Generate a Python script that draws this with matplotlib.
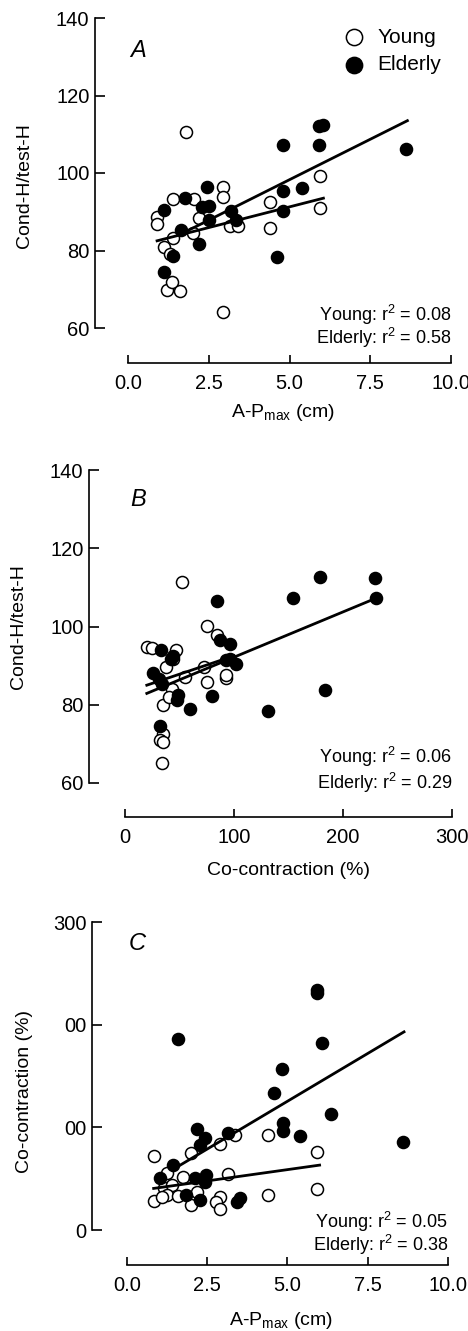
import matplotlib
matplotlib.use("Agg")
import matplotlib.pyplot as plt
import numpy as np

plt.rcParams['font.family'] = ['Liberation Sans', 'DejaVu Sans']
plt.rcParams['mathtext.fontset'] = 'custom'
plt.rcParams['mathtext.rm'] = 'Liberation Sans'

# Panel A: A-Pmax (cm) vs Cond-H/test-H
a_young_x = [1.8, 0.9, 0.9, 1.4, 1.1, 1.3, 1.4, 1.2, 1.35, 1.6, 2.05, 2.2, 2.0,
             2.93, 2.93, 3.15, 3.4, 2.95, 4.4, 4.4, 5.95, 5.95]
a_young_y = [110.5, 88.7, 86.8, 93.2, 81.0, 79.1, 83.1, 69.8, 72.0, 69.6, 93.2,
             88.3, 84.4, 96.5, 93.9, 86.2, 86.2, 64.2, 92.4, 85.7, 99.1, 90.9]
a_elder_x = [1.1, 1.1, 1.4, 1.65, 1.75, 2.2, 2.45, 2.5, 2.3, 2.5, 3.2, 3.35,
             4.8, 4.8, 4.8, 4.6, 5.4, 5.9, 6.05, 5.92, 8.6]
a_elder_y = [90.5, 74.5, 78.6, 85.3, 93.6, 81.8, 96.3, 91.6, 91.3, 87.9, 90.3,
             88.0, 107.2, 95.4, 90.2, 78.2, 96.2, 112.1, 112.4, 107.2, 106.2]
a_fit_young_x = [0.9, 6.05]
a_fit_young_y = [82.5, 93.5]
a_fit_elder_x = [1.7, 8.65]
a_fit_elder_y = [84.5, 113.5]

# Panel B: Co-contraction (%) vs Cond-H/test-H
b_young_x = [52, 20, 24.5, 47, 44, 38, 43, 34.5, 35, 32, 35, 33.5, 75, 84, 72.5,
             75, 92.5, 92.5, 55, 40]
b_young_y = [111.4, 94.8, 94.4, 94.1, 91.8, 89.7, 84.1, 80.0, 72.6, 70.9, 70.5,
             65.2, 100.1, 97.8, 89.7, 85.7, 86.9, 87.5, 87.1, 82.0]
b_elder_x = [84, 154, 179, 229.5, 230, 183.5, 131, 60, 79.5, 48, 49, 33, 42, 44,
             26, 31.5, 32, 87, 96, 93, 102, 96, 34]
b_elder_y = [106.6, 107.4, 112.7, 112.3, 107.4, 83.7, 78.3, 78.8, 82.2, 81.2,
             82.4, 93.9, 91.6, 92.4, 88.0, 86.7, 74.5, 96.5, 95.6, 91.4, 90.5,
             91.8, 85.4]
b_fit_young_x = [20, 100]
b_fit_young_y = [85.0, 92.5]
b_fit_elder_x = [20, 230]
b_fit_elder_y = [82.9, 107.2]

# Panel C: A-Pmax (cm) vs Co-contraction (%)
c_young_x = [0.83, 0.83, 2.0, 2.9, 3.37, 4.4, 5.93, 5.93, 4.4, 3.14, 1.24, 1.74,
             1.14, 1.4, 1.24, 1.58, 2.18, 2.0, 2.9, 2.78, 2.9, 1.09]
c_young_y = [72.3, 28.5, 74.6, 83.7, 92.4, 92.4, 75.6, 39.9, 34.1, 54.5, 55.8,
             51.9, 40.5, 43.8, 34.1, 33.1, 37.3, 24.3, 32.4, 27.6, 20.1, 32.4]
c_elder_x = [1.6, 5.91, 5.93, 6.06, 4.82, 4.58, 6.37, 4.85, 4.85, 5.39, 8.6,
             2.18, 2.44, 2.26, 3.16, 1.43, 1.02, 2.12, 2.46, 2.44, 1.84, 2.26,
             3.42, 3.52]
c_elder_y = [186.5, 233.5, 231.0, 182.6, 157.3, 133.6, 112.9, 103.8, 96.7, 91.5,
             86.0, 98.3, 89.2, 82.7, 94.1, 63.2, 50.3, 50.3, 53.5, 47.0, 34.1,
             29.2, 27.6, 31.5]
c_fit_young_x = [0.83, 6.0]
c_fit_young_y = [40.5, 63.2]
c_fit_elder_x = [1.4, 8.63]
c_fit_elder_y = [58.4, 193.0]

W, H = 468, 1331
fig = plt.figure(figsize=(W / 100, H / 100), dpi=100)


def make_axes(left, right, top, bottom):
    return fig.add_axes([left / W, 1 - bottom / H, (right - left) / W, (bottom - top) / H])


def style(ax, xlim, ylim, xticks, xticklabels, yticks, yticklabels, lout, bout):
    ax.set_xlim(*xlim)
    ax.set_ylim(*ylim)
    for s in ['top', 'right']:
        ax.spines[s].set_visible(False)
    ax.spines['left'].set_position(('outward', lout * 0.72))
    ax.spines['bottom'].set_position(('outward', bout * 0.72))
    ax.spines['left'].set_bounds(*ylim)
    ax.spines['bottom'].set_bounds(*xlim)
    ax.spines['left'].set_linewidth(1.2)
    ax.spines['bottom'].set_linewidth(1.2)
    ax.set_xticks(xticks)
    ax.set_xticklabels(xticklabels)
    ax.set_yticks(yticks)
    ax.set_yticklabels(yticklabels)
    ax.tick_params(axis='y', direction='in', length=7.5, width=1.2, labelsize=14.5, pad=4)
    ax.tick_params(axis='x', direction='in', length=6, width=1.2, labelsize=14.5, pad=8)
    ax.patch.set_visible(False)


def points(ax, yx, yy, ex, ey, fyx, fyy, fex, fey):
    ax.plot(fyx, fyy, color='black', lw=2.0, zorder=3)
    ax.plot(fex, fey, color='black', lw=2.0, zorder=3)
    y = ax.scatter(yx, yy, s=75, facecolor='white', edgecolor='black', lw=1.1, zorder=2,
                   label='Young')
    e = ax.scatter(ex, ey, s=75, facecolor='black', edgecolor='black', lw=1.1, zorder=2,
                   label='Elderly')
    return y, e


def r2(ax, ya, ea, yline, gap):
    ax.text(1.0, yline + gap, 'Young: r$^{\\mathregular{2}}$ = ' + ya, transform=ax.transAxes,
            ha='right', va='center', fontsize=13)
    ax.text(1.0, yline, 'Elderly: r$^{\\mathregular{2}}$ = ' + ea, transform=ax.transAxes,
            ha='right', va='center', fontsize=13)


xlab_ap = 'A-P$_{\\mathregular{max}}$ (cm)'

# --- A ---
axA = make_axes(128, 451, 18, 328)
style(axA, (0, 10), (60, 140), [0, 2.5, 5, 7.5, 10], ['0.0', '2.5', '5.0', '7.5', '10.0'],
      [60, 80, 100, 120, 140], ['60', '80', '100', '120', '140'], 33, 35)
hy, he = points(axA, a_young_x, a_young_y, a_elder_x, a_elder_y,
                a_fit_young_x, a_fit_young_y, a_fit_elder_x, a_fit_elder_y)
axA.set_ylabel('Cond-H/test-H', fontsize=14)
axA.yaxis.set_label_coords(-0.294, 0.46)
axA.set_xlabel(xlab_ap, fontsize=14)
axA.xaxis.set_label_coords(0.48, -0.24)
axA.text(0.006, 0.874, 'A', transform=axA.transAxes, fontsize=17, style='italic')
r2(axA, '0.08', '0.58', yline=-0.032, gap=0.074)
leg = axA.legend(handles=[hy, he], loc='upper right', bbox_to_anchor=(0.995, 0.995),
                 frameon=False, fontsize=15, handletextpad=0.6, labelspacing=0.4,
                 markerscale=1.35, borderaxespad=0, handlelength=1.0)

# --- B ---
axB = make_axes(125, 452, 470, 783)
style(axB, (0, 300), (60, 140), [0, 100, 200, 300], ['0', '100', '200', '300'],
      [60, 80, 100, 120, 140], ['60', '80', '100', '120', '140'], 36, 34)
points(axB, b_young_x, b_young_y, b_elder_x, b_elder_y,
       b_fit_young_x, b_fit_young_y, b_fit_elder_x, b_fit_elder_y)
axB.set_ylabel('Cond-H/test-H', fontsize=14)
axB.yaxis.set_label_coords(-0.30, 0.5)
axB.set_xlabel('Co-contraction (%)', fontsize=14)
axB.xaxis.set_label_coords(0.5, -0.252)
axB.text(0.016, 0.885, 'B', transform=axB.transAxes, fontsize=17, style='italic')
r2(axB, '0.06', '0.29', yline=0.0, gap=0.083)

# --- C ---
axC = make_axes(127, 448, 922, 1230)
style(axC, (0, 10), (0, 300), [0, 2.5, 5, 7.5, 10], ['0.0', '2.5', '5.0', '7.5', '10.0'],
      [0, 100, 200, 300], ['0', '00', '00', '300'], 35, 35)
points(axC, c_young_x, c_young_y, c_elder_x, c_elder_y,
       c_fit_young_x, c_fit_young_y, c_fit_elder_x, c_fit_elder_y)
axC.set_ylabel('Co-contraction (%)', fontsize=14)
axC.yaxis.set_label_coords(-0.293, 0.45)
axC.set_xlabel(xlab_ap, fontsize=14)
axC.xaxis.set_label_coords(0.48, -0.26)
axC.text(0.006, 0.909, 'C', transform=axC.transAxes, fontsize=17, style='italic')
r2(axC, '0.05', '0.38', yline=-0.049, gap=0.075)

fig.savefig('out.png', dpi=100)
